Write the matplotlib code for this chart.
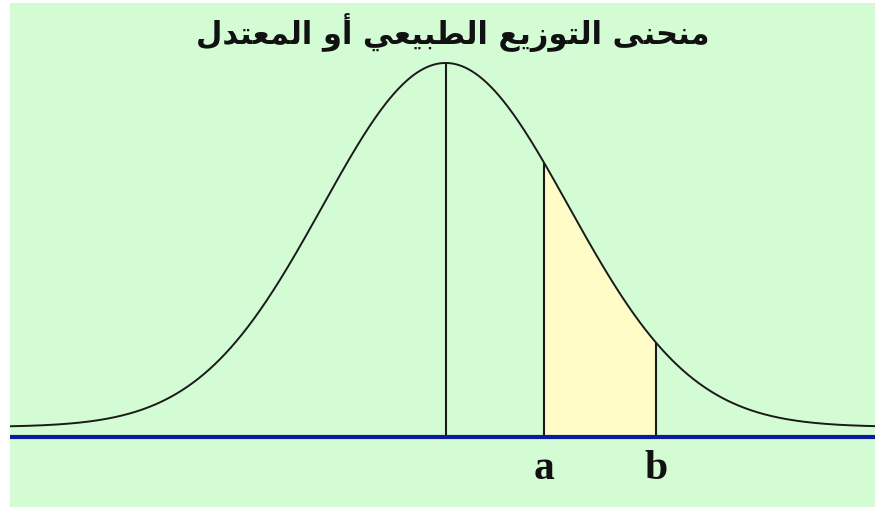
import numpy as np
import matplotlib
matplotlib.use("Agg")
import matplotlib.pyplot as plt

# ---- data ----
title_text = "منحنى التوزيع الطبيعي أو المعتدل"
mu = 0.0
sigma = 1.0
a_val = 0.8
b_val = 1.71
x_min, x_max = -3.54, 3.49
curve_offset = 0.011
point_labels = ["a", "b"]

# ---- minimal Arabic shaping (presentation forms) ----
FORMS = {
    "ا": ("\uFE8D", "\uFE8E", None, None),
    "أ": ("\uFE83", "\uFE84", None, None),
    "ب": ("\uFE8F", "\uFE90", "\uFE91", "\uFE92"),
    "ت": ("\uFE95", "\uFE96", "\uFE97", "\uFE98"),
    "ح": ("\uFEA1", "\uFEA2", "\uFEA3", "\uFEA4"),
    "د": ("\uFEA9", "\uFEAA", None, None),
    "ز": ("\uFEAF", "\uFEB0", None, None),
    "ط": ("\uFEC1", "\uFEC2", "\uFEC3", "\uFEC4"),
    "ع": ("\uFEC9", "\uFECA", "\uFECB", "\uFECC"),
    "ل": ("\uFEDD", "\uFEDE", "\uFEDF", "\uFEE0"),
    "م": ("\uFEE1", "\uFEE2", "\uFEE3", "\uFEE4"),
    "ن": ("\uFEE5", "\uFEE6", "\uFEE7", "\uFEE8"),
    "و": ("\uFEED", "\uFEEE", None, None),
    "ى": ("\uFEEF", "\uFEF0", "\uFBE8", "\uFBE9"),
    "ي": ("\uFEF1", "\uFEF2", "\uFEF3", "\uFEF4"),
}


def shape_arabic(text):
    out = []
    n = len(text)
    for i, c in enumerate(text):
        if c not in FORMS:
            out.append(c)
            continue
        prev = text[i - 1] if i > 0 else ""
        nxt = text[i + 1] if i < n - 1 else ""
        prev_con = prev in FORMS and FORMS[prev][2] is not None
        next_con = nxt in FORMS and FORMS[c][2] is not None
        iso, fin, ini, med = FORMS[c]
        if prev_con and next_con:
            out.append(med)
        elif prev_con:
            out.append(fin)
        elif next_con:
            out.append(ini)
        else:
            out.append(iso)
    return "".join(out)[::-1]


def curve(x):
    return curve_offset + np.exp(-0.5 * ((x - mu) / sigma) ** 2) / (sigma * np.sqrt(2 * np.pi))


W, H = 875, 507
fig = plt.figure(figsize=(W / 100, H / 100), dpi=100, facecolor="white")
ax = fig.add_axes([10 / W, 0, 1 - 10 / W, 504 / H])
ax.set_facecolor("#d4fcd4")
for s in ax.spines.values():
    s.set_visible(False)
ax.set_xticks([])
ax.set_yticks([])

px_per_unit = 364 / (1 / np.sqrt(2 * np.pi))
y_top = (437 - 3) / px_per_unit
y_bot = -(507 - 437) / px_per_unit
ax.set_xlim(x_min, x_max)
ax.set_ylim(y_bot, y_top)

xs = np.linspace(x_min, x_max, 800)
xf = np.linspace(a_val, b_val, 200)
ax.fill_between(xf, 0, curve(xf), color="#fffcc8", lw=0, zorder=1)
ax.plot(xs, curve(xs), color="#1a1a1a", lw=1.4, zorder=3)
ax.vlines([mu, a_val, b_val], 0, curve(np.array([mu, a_val, b_val])),
          color="#1a1a1a", lw=1.5, zorder=2)
ax.axhline(0, color="#0a1c9c", lw=3, zorder=4)

label_y = -(479 - 437) / px_per_unit
for xv, lab in zip([a_val, b_val], point_labels):
    ax.text(xv, label_y, lab, ha="center", va="baseline", fontsize=30,
            fontweight="bold", family="Liberation Serif", color="#111111")

fig.text(453 / W, 1 - 33 / H, shape_arabic(title_text), ha="center", va="center",
         fontsize=22, fontweight="bold", family=["DejaVu Sans"], color="#111111")

fig.savefig("out.png", dpi=100, facecolor="white")
